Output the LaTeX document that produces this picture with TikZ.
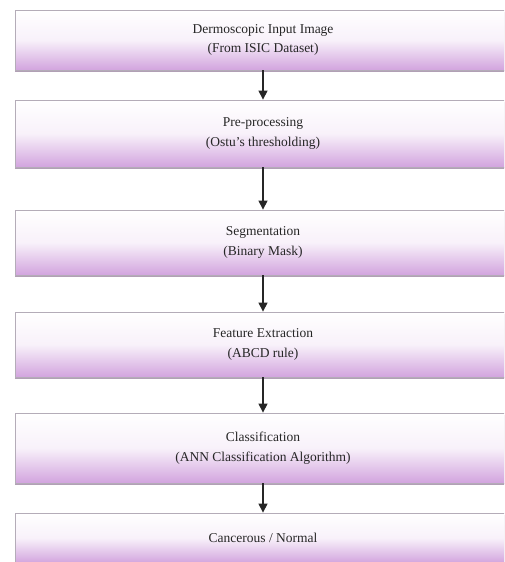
\documentclass[tikz,border=0pt]{standalone}
\usepackage{fontspec}
\setmainfont{Liberation Serif}
\usetikzlibrary{arrows, arrows.meta}
\usetikzlibrary{shadows}

\definecolor{stagepurple}{RGB}{210,164,222}
\definecolor{stageedge}{RGB}{180,172,184}

\tikzset{
  stage/.style={rectangle, draw=stageedge, line width=0.8pt, inner sep=0pt,
    minimum width=496pt, align=center, text=black!85,
    top color=white, bottom color=stagepurple, middle color=white!85!stagepurple,
    drop shadow={shadow xshift=0pt, shadow yshift=-1.8pt, fill=stagepurple!60!black, opacity=0.6},
    font=\fontsize{13.5}{19.5}\selectfont},
  flow/.style={-{Triangle[length=9pt, width=9pt]}, line width=1.1pt, black!85}
}

\begin{document}
\begin{tikzpicture}[x=1pt, y=-1pt]
      \clip (0,0) rectangle (504,562);
      \fill[white] (0,0) rectangle (504,562);

      \node[stage, minimum height=60pt] (input) at (263,40) {Dermoscopic Input Image\\(From ISIC Dataset)};
      \node[stage, minimum height=67pt] (prep) at (263,133.5) {Pre-processing\\(Ostu's thresholding)};
      \node[stage, minimum height=65pt] (seg) at (263,242.5) {Segmentation\\(Binary Mask)};
      \node[stage, minimum height=65pt] (feat) at (263,344.5) {Feature Extraction\\(ABCD rule)};
      \node[stage, minimum height=70pt] (class) at (263,448) {Classification\\(ANN Classification Algorithm)};
      \node[stage, minimum height=50pt] (out) at (263,538) {Cancerous / Normal};

      \draw[flow] (input) -- (prep);
      \draw[flow] (prep) -- (seg);
      \draw[flow] (seg) -- (feat);
      \draw[flow] (feat) -- (class);
      \draw[flow] (class) -- (out);
    \end{tikzpicture}
\end{document}
